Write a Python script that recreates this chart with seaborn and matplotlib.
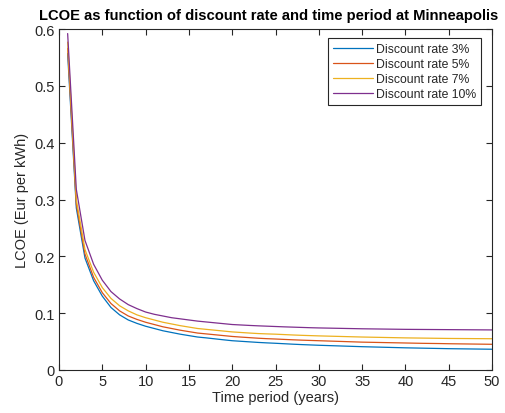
import matplotlib
matplotlib.use("Agg")
import matplotlib.pyplot as plt
import pandas as pd
import seaborn as sns

# Levelised cost of energy (Eur per kWh) for project lifetimes of 1..50 years
years = list(range(1, 51))

lcoe_3 = [0.557, 0.285, 0.197, 0.157, 0.130, 0.110, 0.097, 0.088, 0.082, 0.077,
          0.073, 0.069, 0.066, 0.063, 0.0605, 0.058, 0.0565, 0.0548, 0.0531, 0.0515,
          0.0505, 0.0495, 0.0485, 0.0477, 0.047, 0.0462, 0.0454, 0.0447, 0.0441, 0.0435,
          0.043, 0.0425, 0.042, 0.0415, 0.041, 0.0406, 0.0402, 0.0398, 0.0394, 0.039,
          0.0387, 0.0384, 0.0381, 0.0378, 0.0375, 0.0373, 0.0371, 0.0369, 0.0367, 0.0365]

lcoe_5 = [0.566, 0.292, 0.204, 0.163, 0.136, 0.117, 0.104, 0.095, 0.089, 0.084,
          0.080, 0.076, 0.073, 0.070, 0.0675, 0.065, 0.0635, 0.062, 0.0605, 0.059,
          0.0579, 0.0569, 0.0559, 0.0551, 0.0545, 0.0538, 0.0531, 0.0525, 0.052, 0.0515,
          0.051, 0.0505, 0.050, 0.0495, 0.049, 0.0487, 0.0484, 0.0481, 0.0478, 0.0475,
          0.0472, 0.0469, 0.0467, 0.0465, 0.0462, 0.046, 0.0458, 0.0456, 0.0454, 0.0452]

lcoe_7 = [0.577, 0.300, 0.212, 0.172, 0.145, 0.126, 0.113, 0.104, 0.097, 0.092,
          0.088, 0.084, 0.081, 0.078, 0.0755, 0.073, 0.0715, 0.070, 0.0685, 0.067,
          0.066, 0.065, 0.0641, 0.0635, 0.063, 0.0623, 0.0616, 0.061, 0.0605, 0.060,
          0.0596, 0.0592, 0.0588, 0.0584, 0.058, 0.0577, 0.0574, 0.0571, 0.0568, 0.0565,
          0.0563, 0.0561, 0.0559, 0.0557, 0.0555, 0.0554, 0.0553, 0.0552, 0.0551, 0.055]

lcoe_10 = [0.592, 0.318, 0.228, 0.186, 0.158, 0.138, 0.125, 0.115, 0.108, 0.102,
           0.098, 0.095, 0.092, 0.090, 0.088, 0.086, 0.0845, 0.083, 0.0815, 0.080,
           0.0792, 0.0784, 0.0777, 0.0771, 0.0765, 0.0759, 0.0754, 0.0749, 0.0744, 0.074,
           0.0737, 0.0734, 0.0731, 0.0728, 0.0725, 0.0723, 0.0721, 0.0719, 0.0717, 0.0715,
           0.0714, 0.0713, 0.0712, 0.0711, 0.071, 0.0709, 0.0708, 0.0707, 0.0706, 0.0705]

series_labels = ["Discount rate 3%", "Discount rate 5%", "Discount rate 7%", "Discount rate 10%"]
series_values = [lcoe_3, lcoe_5, lcoe_7, lcoe_10]
x_ticks = list(range(0, 51, 5))
y_ticks = [0, 0.1, 0.2, 0.3, 0.4, 0.5, 0.6]
y_tick_labels = ["0", "0.1", "0.2", "0.3", "0.4", "0.5", "0.6"]

frames = [pd.DataFrame({"year": years, "lcoe": vals, "series": lab})
          for lab, vals in zip(series_labels, series_values)]
df = pd.concat(frames, ignore_index=True)

sns.set_theme(style="white")
plt.rcParams["font.family"] = ["Liberation Sans", "DejaVu Sans"]

palette = ["#0072BD", "#D95319", "#EDB120", "#7E2F8E"]
axis_col = "#262626"

fig = plt.figure(figsize=(5.05, 4.14), dpi=100)
ax = fig.add_axes([0.1168, 0.1039, 0.8575, 0.8236])

sns.lineplot(data=df, x="year", y="lcoe", hue="series", hue_order=series_labels,
             palette=palette, linewidth=0.9, ax=ax)

ax.set_xlim(0, 50)
ax.set_ylim(0, 0.6)
ax.set_xticks(x_ticks)
ax.set_yticks(y_ticks)
ax.set_yticklabels(y_tick_labels)

for s in ax.spines.values():
    s.set_visible(True)
    s.set_color(axis_col)
    s.set_linewidth(0.8)

ax.tick_params(axis="both", which="major", direction="in", length=4, width=0.8,
               color=axis_col, labelcolor=axis_col, labelsize=10.5,
               top=True, right=True, bottom=True, left=True, pad=3)

ax.set_xlabel("Time period (years)", fontsize=10.5, color=axis_col, labelpad=1)
ax.set_ylabel("LCOE (Eur per kWh)", fontsize=10.5, color=axis_col, labelpad=4)
fig.text(0.531, 0.962,
         "LCOE as function of discount rate and time period at Minneapolis",
         fontsize=10.6, fontweight="bold", color="black", ha="center", va="center")

leg = ax.legend(loc="upper right", bbox_to_anchor=(0.9745, 0.9735), fontsize=8.8,
                frameon=True, fancybox=False, framealpha=1, edgecolor=axis_col,
                handlelength=3.3, handletextpad=0.2, borderpad=0.4, labelspacing=0.25,
                borderaxespad=0)
leg.get_frame().set_linewidth(0.8)
for line in leg.get_lines():
    line.set_linewidth(0.9)

fig.savefig("out.png", dpi=100)
